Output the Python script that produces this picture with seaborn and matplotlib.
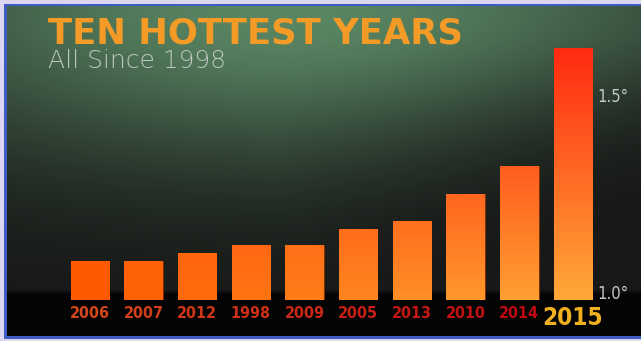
import numpy as np
import pandas as pd
import matplotlib
matplotlib.use("Agg")
import matplotlib.pyplot as plt
import seaborn as sns
from matplotlib.colors import to_rgb
from matplotlib.patches import Rectangle

# ---- data ----
years = ["2006", "2007", "2012", "1998", "2009", "2005", "2013", "2010", "2014", "2015"]
anomaly_f = [1.08, 1.08, 1.10, 1.12, 1.12, 1.16, 1.18, 1.25, 1.32, 1.62]
ytick_values = [1.0, 1.5]
ytick_labels = ["1.0°", "1.5°"]
title = "TEN HOTTEST YEARS"
subtitle = "All Since 1998"

W, H = 641, 341
sns.set_theme(style="white")
plt.rcParams["font.family"] = ["DejaVu Sans"]

fig = plt.figure(figsize=(W / 100, H / 100), dpi=100)

# ---- background (dark green glow fading to black) ----
bg = fig.add_axes([0, 0, 1, 1])
bg.set_axis_off()
yy, xx = np.mgrid[0:H, 0:W].astype(float)
sy = 150 - 50 * np.clip((xx - 280) / 360, 0, 1)
g = np.exp(-((xx - 290) / 450) ** 2) * np.exp(-((yy - 10) / sy) ** 2)
green = np.array(to_rgb("#5a8663"))
dark = np.array(to_rgb("#171817"))
img = dark + (green - dark) * g[..., None]
blackmask = np.clip((yy - 289) / 5, 0, 1)[..., None]
img = img * (1 - blackmask) + np.array(to_rgb("#040404")) * blackmask
bg.imshow(img, extent=[0, W, H, 0], aspect="auto", interpolation="bilinear")
lav, blue = "#dcd6f0", "#3d5dc4"
for (x, y, w, h, c) in [(0, 0, W, 3.5, lav), (0, 3.5, W, 2.5, blue),
                        (0, 0, 4, H, lav), (4, 3.5, 2.5, H - 5, blue),
                        (0, 338.5, W, 3, lav), (4, 336, W, 2.5, blue)]:
    bg.add_patch(Rectangle((x, y), w, h, color=c, lw=0, zorder=5))
bg.set_xlim(0, W)
bg.set_ylim(H, 0)

# ---- bar axes ----
left, right, top_px, bot_px = 63, 597, 40, 300
ax = fig.add_axes([left / W, (H - bot_px) / H, (right - left) / W, (bot_px - top_px) / H])
ax.patch.set_alpha(0)
df = pd.DataFrame({"year": years, "anomaly": anomaly_f})
sns.barplot(data=df, x="year", y="anomaly", order=years, width=0.72, ax=ax,
            color="#ff6a10", saturation=1, errorbar=None)
ymin, ymax = 0.98, 0.98 + (bot_px - top_px) / 394
ax.set_xlim(-0.5, 9.45)
ax.set_ylim(ymin, ymax)

n = len(years)
red = np.array(to_rgb("#ff2a10"))
b0, b1 = np.array(to_rgb("#ff5a00")), np.array(to_rgb("#ffa838"))
vmin, vmax = min(anomaly_f), max(anomaly_f)
for i, p in enumerate(ax.patches):
    x0, w, h = p.get_x(), p.get_width(), p.get_height()
    bottom_c = b0 + (b1 - b0) * (i / (n - 1))
    s = ((h - vmin) / (vmax - vmin)) ** 0.7 if h > vmin else 0.0
    top_c = bottom_c + (red - bottom_c) * s
    t = np.linspace(0, 1, 64)[:, None, None]
    grad = top_c * (1 - t) + bottom_c * t
    p.set_facecolor(bottom_c)
    p.set_edgecolor("#7a2a00")
    p.set_linewidth(0.6)
    im = ax.imshow(grad, extent=[x0, x0 + w, ymin, h], origin="upper",
                   aspect="auto", zorder=p.get_zorder() + 0.1, interpolation="bilinear")
    im.set_clip_path(p)
ax.set_xlim(-0.5, 9.45)
ax.set_ylim(ymin, ymax)

for sp in ax.spines.values():
    sp.set_visible(False)
ax.set_xlabel("")
ax.set_ylabel("")
ax.yaxis.tick_right()
ax.set_yticks(ytick_values)
ax.set_yticklabels(ytick_labels, family="DejaVu Sans", stretch="condensed",
                   fontsize=12, color="#c4c8c4")
ax.tick_params(axis="y", length=0, pad=0)
ax.tick_params(axis="x", length=0, pad=4.5)
lab0, lab1 = np.array(to_rgb("#d4461a")), np.array(to_rgb("#c00812"))
for i, lab in enumerate(ax.get_xticklabels()):
    lab.set_family("DejaVu Sans")
    lab.set_stretch("condensed")
    lab.set_fontweight("bold")
    if lab.get_text() == "2015":
        lab.set_color("#f0b020")
        lab.set_fontsize(17.5)
    else:
        lab.set_color(lab0 + (lab1 - lab0) * (i / (n - 2)))
        lab.set_fontsize(11.5)

# ---- titles ----
fig.text(48 / W, 1 - 43 / H, title, fontsize=25.5, fontweight="bold",
         color="#f39b26", va="baseline", ha="left")
fig.text(48 / W, 1 - 68 / H, subtitle, fontsize=18, family="DejaVu Sans",
         fontweight="light", color="#bcc7bd", va="baseline", ha="left")

fig.savefig("out.png", dpi=100)
